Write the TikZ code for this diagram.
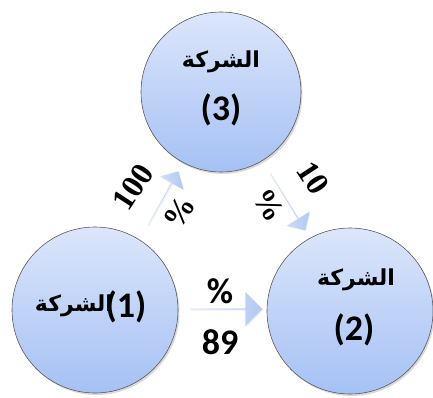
\documentclass[tikz,border=0pt]{standalone}
\usepackage{fontspec}
\setmainfont{Carlito}
\newfontfamily\arabicfont[Script=Arabic]{DejaVu Sans}
\newfontfamily\timesb{Liberation Serif}
\TeXXeTstate=1
\usetikzlibrary{shapes.arrows,shadows}
\definecolor{ctop}{HTML}{DCE6FB}
\definecolor{cbot}{HTML}{A5C1F4}
\definecolor{atail}{HTML}{E2EAFB}
\definecolor{ahead}{HTML}{B2C9F4}
\begin{document}
\begin{tikzpicture}[x=1pt,y=-1pt,
  company/.style={circle, minimum size=#1, inner sep=0pt, top color=ctop, bottom color=cbot,
    draw=black!65, line width=0.6pt,
    drop shadow={shadow xshift=1.5pt, shadow yshift=-2pt, opacity=0.3}},
  blockarrow/.style={single arrow, inner sep=0pt, outer sep=0pt, left color=atail, right color=ahead,
    draw=none, single arrow head extend=#1,
    drop shadow={shadow xshift=1pt, shadow yshift=-1pt, opacity=0.12}},
  artext/.style={font=\arabicfont\bfseries\fontsize{22}{26}\selectfont, inner sep=0pt},
  numtext/.style={font=\bfseries\fontsize{36}{38}\selectfont, inner sep=0pt},
  sertext/.style={font=\timesb\bfseries\fontsize{32}{34}\selectfont, inner sep=0pt}]
\useasboundingbox (0,0) rectangle (433,398);
% companies
\node[company=160pt] (c3) at (221,92) {};
\node[company=166pt] (c1) at (95,310) {};
\node[company=166pt] (c2) at (350,311) {};
% texts in circles
\node[artext] (t3a) at (221,62) {\beginR الشركة\endR};
\node[numtext] (t3b) at (221,110) {(3)};
\node[artext] (t2a) at (356,280) {\beginR الشركة\endR};
\node[numtext] (t2b) at (354,330) {(2)};
\node[artext] (t1a) at (74,306) {\beginR الشركة\endR};
\node[numtext] (t1b) at (126,307) {(1)};
% block arrows
\node[blockarrow=6pt, minimum height=72pt, minimum width=34pt] (a12) at (226,309) {};
\node[blockarrow=5pt, minimum height=62pt, minimum width=27pt, rotate=60.5] (a13) at (163,198.5) {};
\node[blockarrow=5pt, minimum height=67pt, minimum width=27pt, rotate=-58.4] (a32) at (287.5,201.5) {};
% arrow labels
\node[numtext] (p12) at (220,291) {\%};
\node[numtext] (n12) at (220,342) {89};
\node[sertext, rotate=57] (n13) at (133,187) {100};
\node[sertext, rotate=57] (p13) at (179,212) {\%};
\node[sertext, rotate=-57] (n32) at (313,178) {10};
\node[sertext, rotate=-57] (p32) at (269,205) {\%};
\end{tikzpicture}
\end{document}
